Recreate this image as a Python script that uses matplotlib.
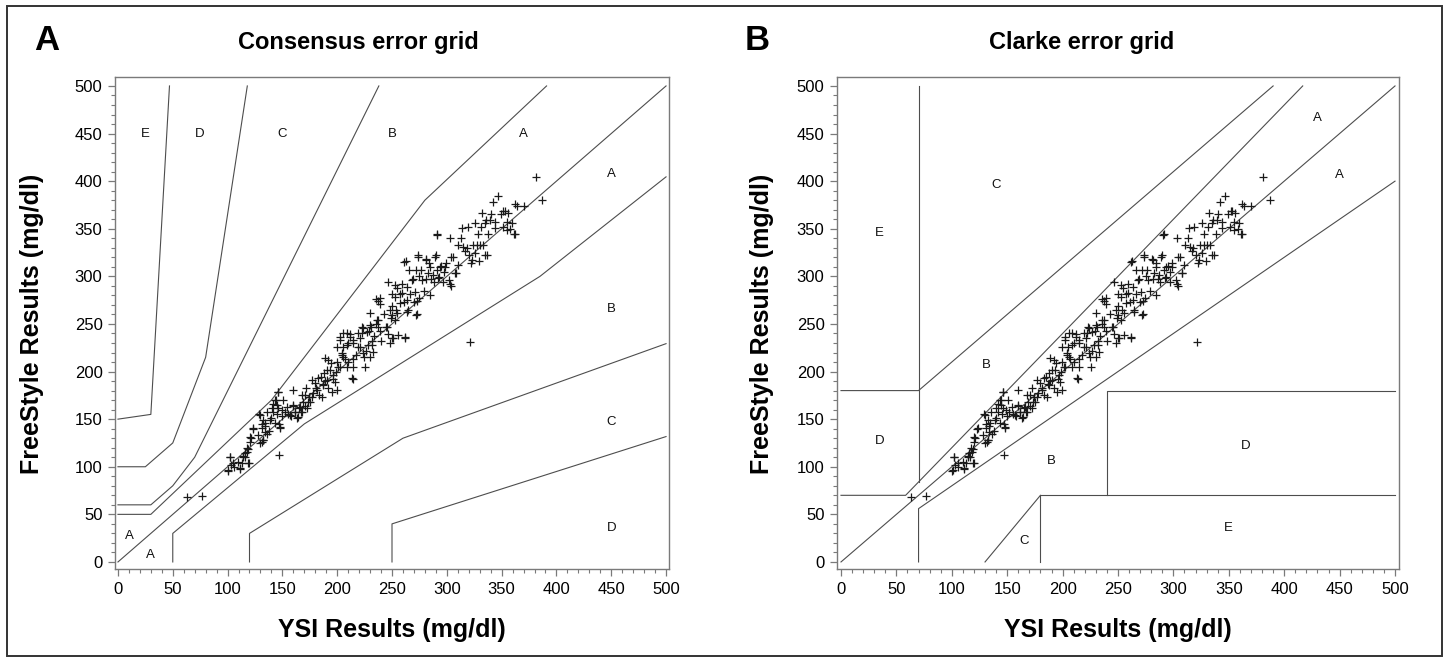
import matplotlib
matplotlib.use("Agg")
import matplotlib.pyplot as plt
from matplotlib.patches import Rectangle
from matplotlib.ticker import MultipleLocator
import numpy as np

plt.rcParams["font.family"] = ["Liberation Sans", "DejaVu Sans"]

# --- data: YSI reference (x) vs FreeStyle reading (y), mg/dl ---
ysi = [63, 77, 321, 381, 387, 147,
       100, 103, 105.5, 102, 111, 113, 114.5, 116, 118, 120, 119, 121, 123,
       129, 131, 131.5, 132.6, 134, 134, 136, 138, 140, 141.6, 141.6, 144.5, 145.9, 145, 147, 148,
       149.6, 152, 155, 158, 160, 161.5, 163, 165, 167, 167.6, 170.5, 172, 174, 175, 178, 179.6,
       181, 183, 185, 187, 188, 189, 192, 193, 194, 196, 199, 201, 204, 207, 205, 208.5, 210, 212,
       214, 214.6, 217.5, 219, 221, 223, 224.7, 226.5, 228, 229, 231, 232, 233.7, 235.5, 237, 239,
       240, 235.5, 239, 242.8, 244.6, 246, 248, 249, 250, 250.7, 253, 253.6, 255, 257, 259, 261,
       261.6, 262.6, 264, 266, 268, 270, 271.7, 273.5, 274.6, 276, 277, 279, 280.7, 282.5, 284, 286,
       288, 290, 291.5, 293, 291.5, 295, 297, 299, 302, 303, 304, 308, 310, 313, 315, 319, 320.5,
       322, 324, 326, 328, 330, 331.5, 332.4, 335, 336, 338, 340, 342, 344, 347, 349, 351, 353, 355,
       358, 361, 364, 370,
       362.2, 351.6, 355.5, 334.8, 325.7, 339.4, 344, 359.2, 354.6, 362.2, 314.1, 302.9, 290.7,
       310.5, 318.1, 327.3, 333.4, 316.6, 322.7, 329.7, 336.4, 305.9, 298.3, 307.4, 303.9, 273.4,
       261.3, 281.3, 289, 284.4, 293.5, 287.4, 292, 296.5, 271.9, 265.9, 275, 281.2, 269, 246.6,
       254.2, 263.3, 270.9, 252.7, 258.8, 239, 237.6, 249.7, 257.3, 263.3, 272.4, 264.8, 272.4,
       284.4, 229.9, 249.7, 252.7, 236, 229.9, 223.9, 237.6, 245.2, 255.8, 261.9, 249.7, 248.2,
       219.3, 211.7, 205.6, 202.6, 214.7, 220.8, 208.7, 199.5, 223.9, 204.1, 229.9, 232.9,
       100.7, 105.2, 109.8, 114.4, 115.9, 111.3, 118.9, 102.2, 117.4, 120.4, 129.6, 132.6, 128,
       120.4, 131.1, 123.5, 134.1, 129.6, 138.7, 132.6, 147.8, 143.3, 135.6, 140.2, 144.8, 143.3,
       146.3, 149.3, 153.9, 157, 161.5, 164.6, 159.9, 166.1, 169.2, 167.6, 172.1, 173.7, 170.6,
       176.7, 181.2, 176.7, 182.8, 187.4, 190.4, 185.8, 194.9, 190.4, 196.5, 198, 202.6, 199.5,
       191.9, 188.9, 205.6, 202.6, 208.7, 214.7, 222.3, 226.9, 231.5, 225.3, 214.7, 210.2, 213.2,
       199.5, 159.9, 146.3, 150.9]
freestyle = [68, 69, 231, 404, 380, 112,
             96, 102, 100, 110, 98, 104, 111, 110, 115, 104, 119, 130, 140,
             155, 145, 126, 128, 136, 143, 134, 138, 151, 158, 166, 170, 179, 155, 145, 141,
             153, 158, 155, 153, 164, 158, 151, 162, 158, 175, 164, 183, 173, 168, 177, 188,
             183, 175, 194, 187, 198, 190, 183, 202, 209, 192, 200, 205, 220, 213, 226, 205, 230, 239,
             192, 213, 217, 226, 235, 247, 215, 222, 228, 243, 247, 232, 237, 250, 254, 243,
             232, 276, 271, 260, 247, 239, 265, 256, 281, 235, 291, 265, 262, 281, 292, 273,
             235, 316, 263, 281, 296, 273, 259, 322, 277, 307, 296, 285, 318, 303, 314, 297,
             294, 322, 307, 299, 344, 311, 305, 314, 296, 292, 320, 303, 312, 340, 331, 352, 322,
             314, 333, 325, 344, 333, 352, 367, 322, 359, 344, 366, 378, 357, 384, 366, 352, 369, 357,
             350, 344, 374, 374,
             375.7, 369, 367, 355.7, 355.7, 359.2, 350.5, 355.7, 349, 344.5, 350.5, 340, 343.6,
             333, 329.5, 333, 333, 326.2, 317.4, 315.7, 322.7, 320, 310.2, 303.2, 290, 320.7,
             315.4, 317.4, 320.7, 310.3, 310.3, 301.5, 298, 294.5, 307, 307, 300.2, 296.7, 296.7, 294.5,
             287.5, 289.2, 284, 278.8, 282, 277, 273.7, 268.5, 272, 275.3, 273.7, 265, 260,
             280.8, 261.2, 259.5, 254.3, 254.3, 249, 245.5, 247.2, 247.2, 238.4, 236.7, 235, 229.6,
             240, 236.7, 240, 233.3, 229.6, 226, 227.9, 226, 219, 217.4, 215.7, 221,
             96.6, 103.6, 105.4, 110.6, 114.1, 98.3, 103.6, 110.6, 119.4, 126.4, 124.6, 128.2, 133.4,
             131.7, 140.4, 140.4, 145.7, 154.4, 149.2, 149.2, 142.2, 145.7, 157.9, 161.4, 164.9, 170.2,
             178.9, 159.7, 163.1, 154.4, 157.9, 152.6, 164.9, 163.1, 168.4, 157.9, 161.4, 168.4, 175.4,
             173.7, 180.7, 191.2, 193, 186, 191.2, 173.7, 178.9, 201.7, 196.4, 189.4, 205.2, 210.5,
             212.2, 214, 215.7, 236.7, 240.2, 233.2, 240.2, 242, 228, 205.2, 205.2, 210.5, 193,
             180.7, 180.7, 161.4, 170.2]

# --- zone boundaries ---
consensus_lines = [
    [(0, 0), (500, 500)],
    [(0, 50), (30, 50), (140, 170), (280, 380), (391, 500)],
    [(50, 0), (50, 30), (170, 145), (385, 300), (500, 404.5)],
    [(0, 60), (30, 60), (50, 80), (70, 110), (238, 500)],
    [(120, 0), (120, 30), (260, 130), (500, 229.3)],
    [(0, 100), (25, 100), (50, 125), (80, 215), (118, 500)],
    [(250, 0), (250, 40), (500, 131.7)],
    [(0, 150), (30, 155), (47, 500)],
]
consensus_zones = [("E", 25, 450), ("D", 75, 450), ("C", 150, 450), ("B", 250, 450),
                   ("A", 370, 450), ("A", 450, 407), ("B", 450, 266), ("C", 450, 147),
                   ("D", 450, 36), ("A", 10, 27), ("A", 30, 7)]

clarke_lines = [
    [(0, 0), (500, 500)],
    [(0, 70), (58.33, 70), (416.7, 500)],
    [(70, 84), (70, 500)],
    [(0, 180), (70, 180), (390, 500)],
    [(70, 0), (70, 56), (500, 400)],
    [(180, 0), (180, 70), (500, 70)],
    [(240, 70), (240, 180), (500, 180)],
    [(130, 0), (180, 70)],
]
clarke_zones = [("A", 430, 466), ("A", 450, 406), ("C", 140, 396), ("E", 35, 346),
                ("B", 131, 207), ("D", 35, 127), ("B", 190, 106), ("D", 365, 122),
                ("E", 350, 36), ("C", 165, 22)]

W, H = 1445, 659
fig = plt.figure(figsize=(W / 100, H / 100), dpi=100)
fig.patches.append(Rectangle((7 / W, 3 / H), 1435 / W, 650 / H, transform=fig.transFigure,
                             fill=False, edgecolor="#333333", lw=1.4))

AXIS = "#7a7a7a"
LINE = "#4d4d4d"


def panel(rect, xlim, lines, zones, letter, letter_x, title, title_x, ylabel_x):
    ax = fig.add_axes([rect[0] / W, 1 - rect[3] / H, (rect[2] - rect[0]) / W, (rect[3] - rect[1]) / H])
    for seg in lines:
        xs, ys = zip(*seg)
        ax.plot(xs, ys, color=LINE, lw=0.8, zorder=1)
    ax.plot(ysi, freestyle, ls="none", marker="+", ms=6, mew=0.9, color="#1a1a1a", zorder=2)
    for t, x, y in zones:
        ax.text(x, y, t, ha="center", va="center", fontsize=9.5, color="#111111")
    ax.set_xlim(*xlim)
    ax.set_ylim(-7.4, 509.4)
    for loc in (ax.xaxis, ax.yaxis):
        loc.set_major_locator(MultipleLocator(50))
        loc.set_minor_locator(MultipleLocator(10))
    ax.tick_params(which="major", length=5, width=0.9, color=AXIS, labelsize=12, pad=4)
    ax.tick_params(which="minor", length=3, width=0.8, color=AXIS)
    for s in ax.spines.values():
        s.set_color(AXIS)
        s.set_linewidth(1.0)
    cx = (rect[0] + rect[2]) / 2
    fig.text(cx / W, 1 - 630 / H, "YSI Results (mg/dl)", ha="center", va="center",
             fontsize=18, fontweight="bold")
    fig.text(ylabel_x / W, 1 - 324 / H, "FreeStyle Results (mg/dl)", ha="center", va="center",
             rotation=90, fontsize=18, fontweight="bold")
    fig.text(letter_x / W, 1 - 41 / H, letter, ha="center", va="center", fontsize=25,
             fontweight="bold")
    fig.text(title_x / W, 1 - 43 / H, title, ha="center", va="center", fontsize=17,
             fontweight="bold")
    return ax


panel((115, 77, 669, 569), (-2.7, 502.7), consensus_lines, consensus_zones,
      "A", 47, "Consensus error grid", 358, 32)
panel((837, 77, 1399, 569), (-3.6, 503.6), clarke_lines, clarke_zones,
      "B", 757, "Clarke error grid", 1082, 762)

fig.savefig("out.png", dpi=100)
